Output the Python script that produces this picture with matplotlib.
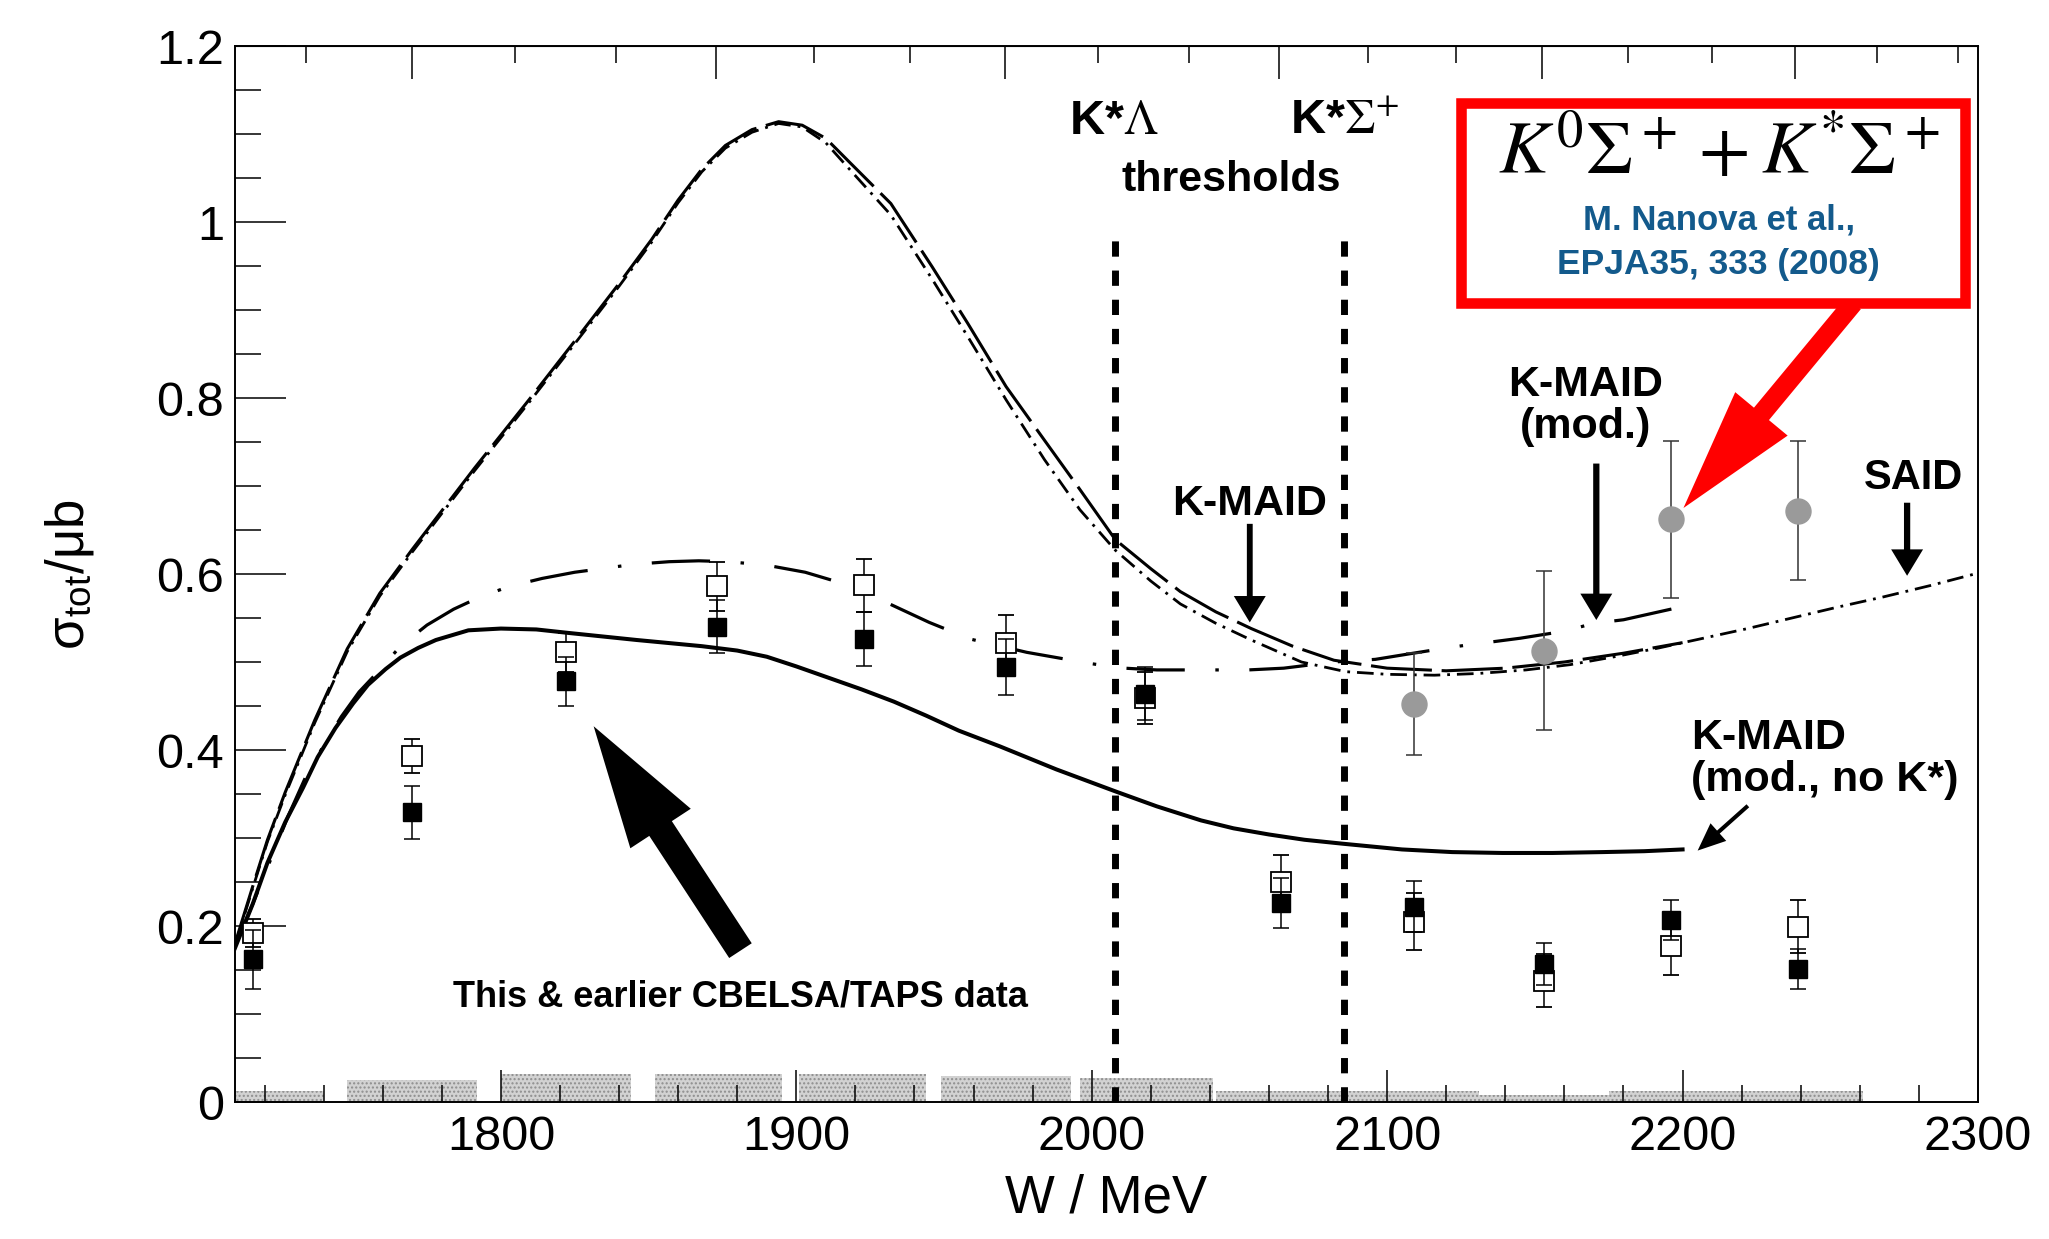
import numpy as np
import matplotlib.pyplot as plt
from matplotlib.patches import FancyArrowPatch, Rectangle
from matplotlib.ticker import MultipleLocator

plt.rcParams['font.family'] = ['Liberation Sans', 'DejaVu Sans']
plt.rcParams['mathtext.fontset'] = 'stix'
plt.rcParams['lines.scale_dashes'] = False
plt.rcParams['hatch.linewidth'] = 1.0

# CBELSA/TAPS total cross sections (W in MeV, sigma in mub)
W_data = [1716, 1770, 1822, 1873, 1923, 1971, 2018, 2064, 2109, 2153, 2196, 2239]
sig_full = [0.162, 0.329, 0.478, 0.540, 0.526, 0.494, 0.464, 0.226, 0.222, 0.157, 0.207, 0.151]
err_full = [0.034, 0.030, 0.028, 0.030, 0.031, 0.032, 0.030, 0.028, 0.029, 0.024, 0.023, 0.023]
sig_open = [0.192, 0.393, 0.511, 0.586, 0.587, 0.522, 0.459, 0.250, 0.205, 0.138, 0.177, 0.199]
err_open = [0.016, 0.019, 0.022, 0.028, 0.030, 0.031, 0.030, 0.031, 0.032, 0.030, 0.033, 0.030]

# K0 Sigma+ + K* Sigma+ (Nanova et al.)
W_k0 = [2109, 2153, 2196, 2239]
sig_k0 = [0.452, 0.513, 0.662, 0.672]
err_k0 = [0.058, 0.090, 0.089, 0.079]

# systematic error bands
band_lo = [1710, 1748, 1800, 1852, 1901, 1949, 1996, 2042, 2087, 2131, 2175, 2218]
band_hi = [1740, 1792, 1844, 1895, 1944, 1993, 2041, 2087, 2131, 2175, 2218, 2261]
band_h = [0.012, 0.025, 0.032, 0.032, 0.032, 0.030, 0.027, 0.012, 0.012, 0.008, 0.012, 0.012]

# K-MAID
W_kmaid = [1710, 1716, 1721, 1727, 1737, 1748, 1759, 1770, 1791, 1810, 1826, 1840, 1851, 1860,
           1868, 1876, 1885, 1894, 1902, 1910, 1918, 1932, 1946, 1958, 1971, 1984, 1996, 2008,
           2020, 2030, 2042, 2054, 2068, 2082, 2100, 2120, 2140, 2160, 2180, 2200]
s_kmaid = [0.180, 0.245, 0.298, 0.352, 0.434, 0.515, 0.578, 0.628, 0.720, 0.800, 0.869, 0.930,
           0.980, 1.025, 1.060, 1.087, 1.105, 1.114, 1.110, 1.095, 1.068, 1.021, 0.949, 0.885,
           0.813, 0.752, 0.696, 0.639, 0.606, 0.580, 0.557, 0.538, 0.518, 0.502, 0.493, 0.490,
           0.493, 0.500, 0.510, 0.522]

# SAID
W_said = [1710, 1716, 1721, 1727, 1737, 1748, 1759, 1770, 1791, 1810, 1826, 1840, 1851, 1860,
          1868, 1876, 1885, 1894, 1902, 1910, 1918, 1932, 1946, 1958, 1971, 1984, 1996, 2008,
          2020, 2030, 2042, 2054, 2071, 2086, 2100, 2116, 2131, 2147, 2162, 2177, 2192, 2207,
          2222, 2237, 2252, 2268, 2284, 2300]
s_said = [0.178, 0.243, 0.296, 0.349, 0.431, 0.512, 0.575, 0.625, 0.717, 0.797, 0.866, 0.927,
          0.977, 1.022, 1.057, 1.084, 1.102, 1.112, 1.108, 1.090, 1.060, 1.008, 0.935, 0.870,
          0.798, 0.730, 0.673, 0.627, 0.592, 0.566, 0.544, 0.525, 0.500, 0.489, 0.486, 0.485,
          0.487, 0.491, 0.497, 0.506, 0.516, 0.527, 0.538, 0.550, 0.562, 0.574, 0.587, 0.601]

# K-MAID (mod.)
W_mod = [1710, 1716, 1722, 1728, 1734, 1740, 1746, 1752, 1759, 1766, 1775, 1784, 1793, 1803,
         1814, 1825, 1834, 1845, 1857, 1867, 1877, 1890, 1903, 1915, 1929, 1945, 1959, 1978,
         2000, 2011, 2022, 2042, 2053, 2065, 2082, 2096, 2107, 2122, 2145, 2160, 2170, 2180,
         2192, 2200]
s_mod = [0.178, 0.225, 0.275, 0.325, 0.370, 0.405, 0.438, 0.466, 0.491, 0.518, 0.542, 0.560,
         0.574, 0.586, 0.595, 0.602, 0.606, 0.611, 0.614, 0.615, 0.614, 0.610, 0.602, 0.590,
         0.570, 0.545, 0.526, 0.511, 0.498, 0.493, 0.491, 0.491, 0.491, 0.493, 0.500, 0.503,
         0.509, 0.517, 0.527, 0.535, 0.544, 0.548, 0.557, 0.563]

# K-MAID (mod., no K*)
W_nok = [1710, 1716, 1721, 1727, 1733, 1738, 1744, 1750, 1755, 1761, 1766, 1772, 1778, 1789,
         1800, 1812, 1823, 1846, 1868, 1880, 1890, 1900, 1911, 1922, 1933, 1944, 1955, 1969,
         1988, 2008, 2022, 2037, 2048, 2060, 2072, 2085, 2105, 2122, 2139, 2156, 2173, 2187, 2200]
s_nok = [0.175, 0.225, 0.272, 0.318, 0.357, 0.392, 0.425, 0.453, 0.474, 0.492, 0.505, 0.516,
         0.525, 0.536, 0.538, 0.537, 0.533, 0.525, 0.518, 0.513, 0.506, 0.495, 0.482, 0.469,
         0.455, 0.439, 0.422, 0.404, 0.378, 0.353, 0.336, 0.320, 0.311, 0.304, 0.298, 0.2935,
         0.287, 0.284, 0.283, 0.283, 0.284, 0.285, 0.287]

# K* Lambda and K* Sigma+ thresholds
thr_W = [2008, 2085.5]
thr_top = 0.994

mp = 938.27


def w2e(w):
    w = np.asarray(w, dtype=float)
    return (w ** 2 - mp ** 2) / (2 * mp)


def e2w(e):
    e = np.asarray(e, dtype=float)
    return np.sqrt(np.maximum(mp ** 2 + 2 * mp * e, 1.0))


def pfeil(ax, a, b, hl, hw, tw, col='black'):
    p = FancyArrowPatch(a, b, arrowstyle='simple,head_length=%g,head_width=%g,tail_width=%g' % (hl, hw, tw),
                        mutation_scale=1, color=col, lw=0, shrinkA=0, shrinkB=0, zorder=6)
    ax.add_patch(p)


fig = plt.figure(figsize=(20.49, 12.39), dpi=100)
ax = fig.add_axes([0.11469, 0.11057, 0.85066, 0.85230])

ax.bar(band_lo, band_h, width=np.array(band_hi) - np.array(band_lo), align='edge',
       color='#d2d2d2', hatch='....', edgecolor='#8e8e8e', lw=0, zorder=1)

ax.plot(W_kmaid, s_kmaid, color='black', lw=2.2, dashes=(44, 7), zorder=3)
ax.plot(W_said, s_said, color='black', lw=2.0, dashes=(12, 5, 2, 5), zorder=3)
ax.plot(W_mod, s_mod, color='black', lw=2.3, dashes=(0, (42, 22, 2.5, 22))[1], zorder=3)
ax.plot(W_nok, s_nok, color='black', lw=2.9, zorder=3)

ax.vlines(thr_W, 0, thr_top, colors='black', lw=5, linestyles=(0, (11, 10)), zorder=2)

ax.errorbar(W_data, sig_open, yerr=err_open, fmt='s', mfc='white', mec='black', mew=1.3, ms=14,
            ecolor='black', elinewidth=1.1, capsize=6, capthick=1.1, zorder=4)
ax.errorbar(W_data, sig_full, yerr=err_full, fmt='s', color='black', ms=13,
            ecolor='black', elinewidth=1.1, capsize=6, capthick=1.1, zorder=5)
ax.errorbar(W_k0, sig_k0, yerr=err_k0, fmt='o', color='#9a9a9a', ms=18,
            ecolor='#333333', elinewidth=1.1, capsize=6, capthick=1.1, zorder=5)

ax.set_xlim(1710, 2300)
ax.set_ylim(0, 1.2)
ax.set_xticks([1800, 1900, 2000, 2100, 2200, 2300])
ax.set_xticklabels(['1800', '1900', '2000', '2100', '2200', '2300'])
ax.xaxis.set_minor_locator(MultipleLocator(20))
ax.set_yticks([0, 0.2, 0.4, 0.6, 0.8, 1.0, 1.2])
ax.set_yticklabels(['0', '0.2', '0.4', '0.6', '0.8', '1', '1.2'])
ax.yaxis.set_minor_locator(MultipleLocator(0.05))
ax.tick_params(axis='x', which='major', direction='in', length=23, width=1.1, labelsize=35, pad=9,
               top=False)
ax.tick_params(axis='x', which='minor', direction='in', length=12, width=1.1, top=False)
ax.tick_params(axis='y', which='major', direction='in', length=37, width=1.1, labelsize=35, pad=8)
ax.tick_params(axis='y', which='minor', direction='in', length=19, width=1.1)
for s in ax.spines.values():
    s.set_linewidth(1.4)

# photon energy scale on top, ticks only
top = ax.secondary_xaxis('top', functions=(w2e, e2w))
top.set_xticks([1200, 1400, 1600, 1800, 2000, 2200])
top.set_xticklabels([])
top.xaxis.set_minor_locator(MultipleLocator(200 / 3))
top.tick_params(which='major', direction='in', length=24, width=1.1)
top.tick_params(which='minor', direction='in', length=12, width=1.1)

ax.set_xlabel('W / MeV', fontsize=38, va='center')
ax.xaxis.set_label_coords(0.5, -0.091)
ax.set_ylabel('σ$_{\\mathregular{tot}}$/μb', fontsize=38, va='center')
ax.yaxis.set_label_coords(-0.095, 0.5)

# labels
ax.text(2007.3, 1.100, 'K*$\\Lambda$', ha='center', va='baseline', fontsize=35, fontweight='bold')
ax.text(2085.6, 1.100, 'K*$\\Sigma^{+}$', ha='center', va='baseline', fontsize=35, fontweight='bold')
ax.text(2047.3, 1.035, 'thresholds', ha='center', va='baseline', fontsize=31, fontweight='bold')

ax.text(2053.4, 0.667, 'K-MAID', ha='center', va='baseline', fontsize=31, fontweight='bold')
pfeil(ax, (2053.5, 0.657), (2053.5, 0.545), 19, 23, 4.2)

ax.text(2167.3, 0.8026, 'K-MAID', ha='center', va='baseline', fontsize=31, fontweight='bold')
ax.text(2167.3, 0.754, '(mod.)', ha='center', va='baseline', fontsize=31, fontweight='bold')
pfeil(ax, (2170.8, 0.7255), (2170.8, 0.5477), 19, 23, 4.5)

ax.text(2278.2, 0.697, 'SAID', ha='center', va='baseline', fontsize=30, fontweight='bold')
pfeil(ax, (2276, 0.681), (2276, 0.598), 19, 23, 4.5)

ax.text(2202.9, 0.4015, 'K-MAID', ha='left', va='baseline', fontsize=31, fontweight='bold')
ax.text(2202.9, 0.353, '(mod., no K*)', ha='left', va='baseline', fontsize=31, fontweight='bold')
pfeil(ax, (2222.1, 0.3366), (2205.1, 0.2857), 20, 17, 2.9)

ax.text(1783.8, 0.109, 'This & earlier CBELSA/TAPS data', ha='left', va='baseline', fontsize=26,
        fontweight='bold')
pfeil(ax, (1881.1, 0.172), (1831.4, 0.427), 88, 52, 19.4)

# red box
ax.add_patch(Rectangle((2124.9, 0.908), 170.7, 0.227, facecolor='white', edgecolor='#ff0000',
                       lw=7.6, zorder=7))
ax.text(2212.2, 1.0542, '$K^0\\Sigma^+ + K^{*}\\Sigma^+$', ha='center', va='baseline', fontsize=54,
        zorder=8)
ax.text(2212.2, 0.9914, 'M. Nanova et al.,', ha='center', va='baseline', fontsize=25,
        fontweight='bold', color='#135a8c', zorder=8)
ax.text(2212.2, 0.941, 'EPJA35, 333 (2008)', ha='center', va='baseline', fontsize=25.5,
        fontweight='bold', color='#135a8c', zorder=8)
pfeil(ax, (2257.8, 0.908), (2200.3, 0.675), 88, 49, 14, col='#ff0000')

fig.savefig('out.png', dpi=100)
